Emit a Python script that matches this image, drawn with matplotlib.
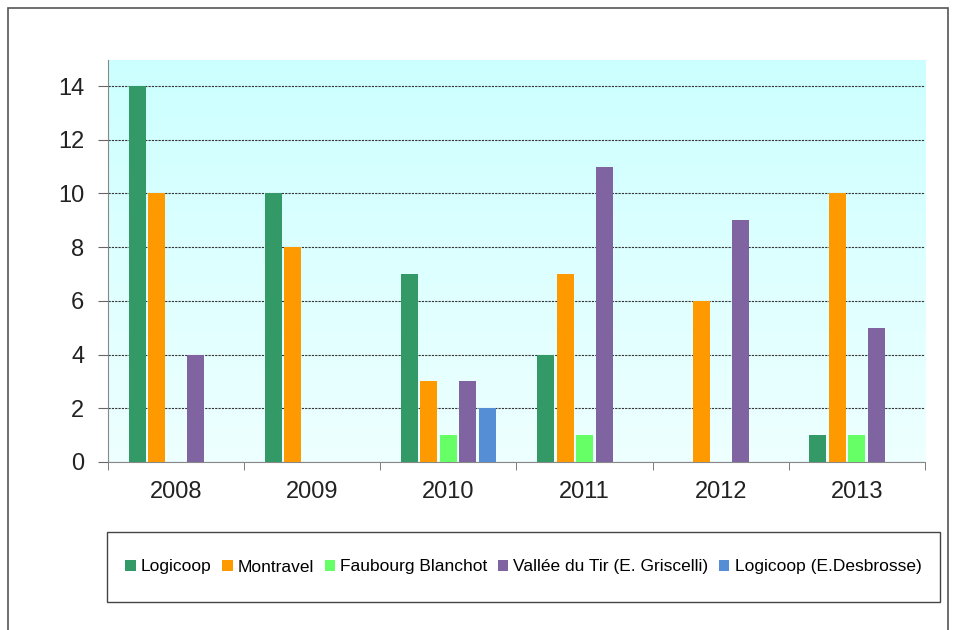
import numpy as np
import matplotlib.pyplot as plt
from matplotlib.patches import Rectangle
from matplotlib.colors import LinearSegmentedColormap

annees = ['2008', '2009', '2010', '2011', '2012', '2013']
series = ['Logicoop', 'Montravel', 'Faubourg Blanchot',
          'Vallée du Tir (E. Griscelli)', 'Logicoop (E.Desbrosse)']
logicoop = [14, 10, 7, 4, 0, 1]
montravel = [10, 8, 3, 7, 6, 10]
faubourg = [0, 0, 1, 1, 0, 1]
vallee = [4, 0, 3, 11, 9, 5]
desbrosse = [0, 0, 2, 0, 0, 0]
valeurs = [logicoop, montravel, faubourg, vallee, desbrosse]
couleurs = ['#339966', '#ff9900', '#66ff66', '#8064a2', '#558ed5']

plt.rcParams['font.family'] = ['Liberation Sans', 'DejaVu Sans']

fig = plt.figure(figsize=(9.55, 6.3), dpi=100)
ax = fig.add_axes([0.113, 0.2667, 0.8556, 0.6381])

# fond en degrade
cmap = LinearSegmentedColormap.from_list('fond', ['#eeffff', '#ccffff'])
ax.imshow(np.linspace(0, 1, 256).reshape(-1, 1), cmap=cmap, aspect='auto',
          extent=[-0.5, 5.5, 0, 15], origin='lower', zorder=0)

x = np.arange(len(annees))
pas = 0.143
for i, (nom, v, c) in enumerate(zip(series, valeurs, couleurs)):
    ax.bar(x + (i - 2) * pas, v, width=0.125, color=c, label=nom, zorder=3)

ax.set_xlim(-0.5, 5.5)
ax.set_ylim(0, 14.97)
ax.set_yticks(range(0, 15, 2))
ax.yaxis.grid(True, linestyle=(0, (2, 1)), color='#333333', linewidth=0.8, zorder=1)
ax.set_axisbelow(True)

ax.set_xticks(x)
ax.set_xticklabels(annees, fontsize=17, color='#222222')
ax.set_xticks(np.arange(-0.5, 6, 1), minor=True)
ax.tick_params(axis='x', which='major', length=0, pad=14)
ax.tick_params(axis='x', which='minor', length=6, color='#666666')
ax.tick_params(axis='y', labelsize=17, labelcolor='#222222', length=7, color='#666666', pad=10)

for s in ['top', 'right']:
    ax.spines[s].set_visible(False)
for s in ['left', 'bottom']:
    ax.spines[s].set_color('#888888')

leg = fig.legend(loc='center', bbox_to_anchor=(0.112, 0.044, 0.872, 0.112),
                 ncol=5, fontsize=12.5, frameon=False,
                 handlelength=0.6, handleheight=0.6, handletextpad=0.3,
                 columnspacing=0.6, borderaxespad=0)
fig.patches.append(Rectangle((0.112, 0.044), 0.872, 0.112, transform=fig.transFigure,
                             fill=False, edgecolor='#444444', linewidth=1))

fig.patches.append(Rectangle((0.0084, -0.01), 0.9843, 0.997, transform=fig.transFigure,
                             fill=False, edgecolor='#555555', linewidth=1.2))

fig.savefig('out.png', dpi=100)
